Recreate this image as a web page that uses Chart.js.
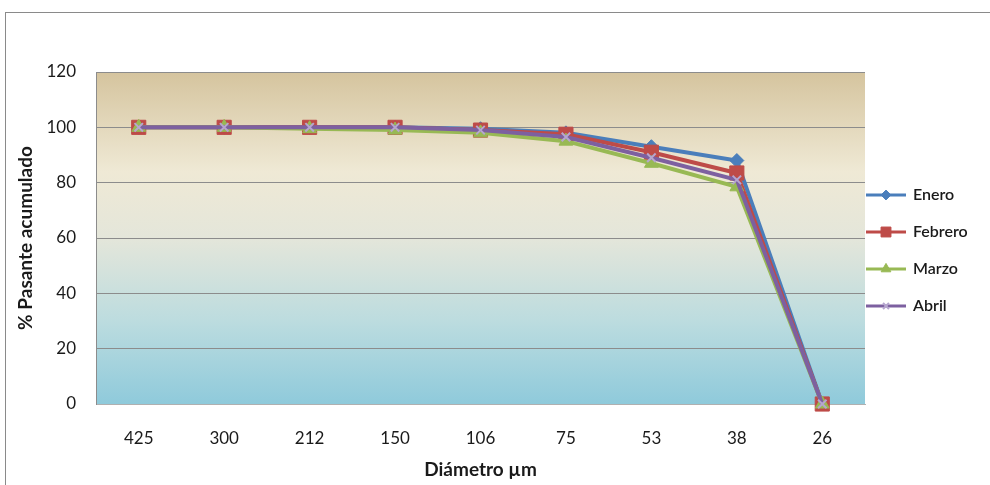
<!DOCTYPE html>
<html>
<head>
<meta charset="utf-8">
<script src="https://cdn.jsdelivr.net/npm/chart.js@4/dist/chart.umd.min.js"></script>
<style>
  html, body { margin: 0; padding: 0; background: #fff; }
  #wrap { width: 990px; height: 485px; position: relative; }
</style>
</head>
<body>
<div id="wrap"><canvas id="ch"></canvas></div>
<script>
// Particle size distribution: % cumulative passing per month.
const sizes = ['425', '300', '212', '150', '106', '75', '53', '38', '26'];
const enero   = [100, 100, 100, 100, 99.5, 98, 93, 88, 0];
const febrero = [100, 100, 100, 100, 99, 97.5, 91, 83.5, 0];
const marzo   = [100, 100, 99.5, 99, 98, 95, 87, 78.5, 0];
const abril   = [100, 100, 100, 100, 99, 96.5, 89, 81, 0];
const yTicks  = [0, 20, 40, 60, 80, 100, 120];

const FONT = "Lato, 'Open Sans', sans-serif";

const C = {
  enero: '#4a7ebb', febrero: '#be4b48', marzo: '#98b954', abril: '#7d60a0',
  grid: '#8c8c8c', text: '#1a1a1a',
};

// Frame + gradient fill behind the plot, like the spreadsheet original.
const backdrop = {
  id: 'backdrop',
  beforeDraw(chart) {
    const { ctx, chartArea: a } = chart;
    ctx.save();
    ctx.fillStyle = '#fff';
    ctx.fillRect(0, 0, chart.width, chart.height);
    ctx.strokeStyle = '#8a8a8a';
    ctx.lineWidth = 1;
    ctx.strokeRect(5.5, 12.5, chart.width + 10, chart.height + 10);
    const g = ctx.createLinearGradient(0, a.top, 0, a.bottom);
    g.addColorStop(0, '#d5c49e');
    g.addColorStop(0.3, '#efe9d5');
    g.addColorStop(0.5, '#e4e6da');
    g.addColorStop(0.75, '#bcdcdf');
    g.addColorStop(1, '#8fcadb');
    ctx.fillStyle = g;
    ctx.fillRect(a.left, a.top, a.right - a.left, a.bottom - a.top);
    ctx.restore();
  },
};

// Legend on the right with a line segment + marker, built from the datasets.
const sideLegend = {
  id: 'sideLegend',
  afterDraw(chart) {
    const { ctx } = chart;
    const x0 = 866, y0 = 195, step = 37;
    ctx.save();
    chart.data.datasets.forEach((ds, i) => {
      const y = y0 + i * step;
      ctx.strokeStyle = ds.borderColor;
      ctx.lineWidth = 3;
      ctx.beginPath(); ctx.moveTo(x0, y); ctx.lineTo(x0 + 40, y); ctx.stroke();
      ctx.fillStyle = ds.pointBackgroundColor;
      ctx.strokeStyle = ds.pointBorderColor;
      ctx.lineWidth = ds.pointBorderWidth;
      Chart.helpers.drawPoint(ctx, {
        pointStyle: ds.pointStyle, radius: ds.pointRadius * 0.7, borderWidth: ds.pointBorderWidth,
      }, x0 + 20, y);
      ctx.fillStyle = C.text;
      ctx.font = `600 16px ${FONT}`;
      ctx.textBaseline = 'middle';
      ctx.fillText(ds.label, x0 + 47, y);
    });
    ctx.restore();
  },
};

function series(label, data, color, style, radius, order, extra = {}) {
  return {
    label, data, order, clip: false,
    borderColor: color, backgroundColor: color,
    borderWidth: 4, tension: 0,
    pointStyle: style, pointRadius: radius, pointHoverRadius: radius,
    pointBackgroundColor: color, pointBorderColor: color, pointBorderWidth: 1,
    ...extra,
  };
}

new Chart(document.getElementById('ch'), {
  type: 'line',
  data: {
    labels: sizes,
    datasets: [
      series('Enero', enero, C.enero, 'rectRot', 7, 3),
      series('Febrero', febrero, C.febrero, 'rect', 10, 2),
      series('Marzo', marzo, C.marzo, 'triangle', 8, 1),
      series('Abril', abril, C.abril, 'crossRot', 6, 0,
        { pointBorderColor: '#b6a6cf', pointBorderWidth: 2 }),
    ],
  },
  options: {
    responsive: true,
    maintainAspectRatio: false,
    animation: false,
    events: [],
    layout: { padding: { left: 10, top: 72, right: 125, bottom: 4 } },
    plugins: { legend: { display: false }, tooltip: { enabled: false } },
    scales: {
      x: {
        offset: true,
        grid: { display: false, drawTicks: false },
        border: { color: '#b0b0b0', width: 1 },
        ticks: { color: C.text, font: { family: FONT, size: 17 }, padding: 24, maxRotation: 0 },
        title: { display: true, text: 'Diámetro µm', color: C.text,
          font: { family: FONT, size: 19, weight: 'bold' }, padding: { top: 4, bottom: 0 } },
        afterFit: s => { s.height = 77; },
      },
      y: {
        min: 0, max: 120,
        afterBuildTicks: s => { s.ticks = yTicks.map(v => ({ value: v })); },
        grid: { color: C.grid, lineWidth: 1, drawTicks: false },
        border: { color: '#8c8c8c', width: 1 },
        ticks: { color: C.text, font: { family: FONT, size: 17 }, padding: 20 },
        title: { display: true, text: '% Pasante acumulado', color: C.text,
          font: { family: FONT, size: 19, weight: 'bold' }, padding: { top: 4, bottom: 0 } },
        afterFit: s => { s.width = 86; },
      },
    },
  },
  plugins: [backdrop, sideLegend],
});
</script>
</body>
</html>
